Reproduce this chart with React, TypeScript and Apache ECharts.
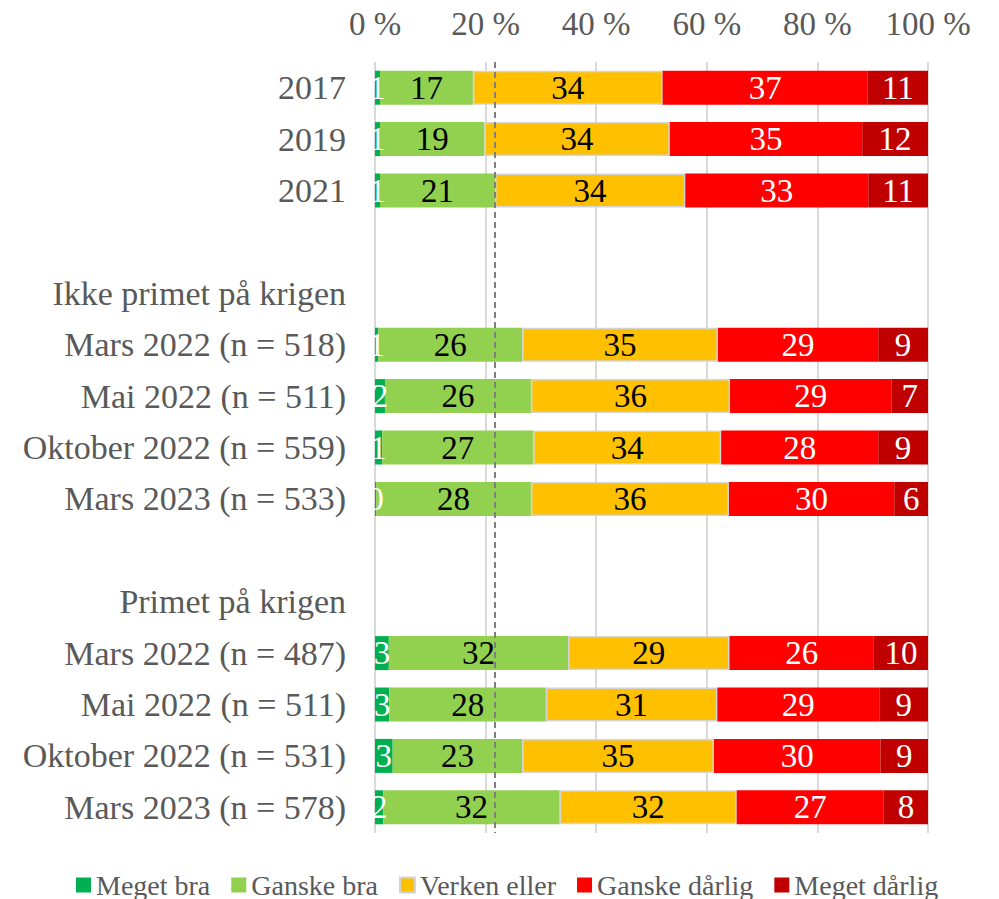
import React, { useEffect, useRef } from "react";
import * as echarts from "echarts";

const categories = [
  "2017",
  "2019",
  "2021",
  "",
  "Ikke primet på krigen",
  "Mars 2022 (n = 518)",
  "Mai 2022 (n = 511)",
  "Oktober 2022 (n = 559)",
  "Mars 2023 (n = 533)",
  " ",
  "Primet på krigen",
  "Mars 2022 (n = 487)",
  "Mai 2022 (n = 511)",
  "Oktober 2022 (n = 531)",
  "Mars 2023 (n = 578)",
];

const megetBra = [0.9, 0.9, 0.9, null, null, 0.6, 1.8, 1.3, 0.2, null, null, 2.5, 2.6, 3.2, 1.5];
const ganskeBra = [16.8, 18.9, 20.8, null, null, 26.0, 26.4, 27.3, 28.0, null, null, 32.4, 28.3, 23.4, 31.9];
const verkenEller = [34.3, 33.5, 34.4, null, null, 35.4, 36.0, 34.0, 35.8, null, null, 29.2, 31.0, 34.7, 32.0];
const ganskeDarlig = [37.1, 34.8, 33.1, null, null, 29.0, 29.2, 28.4, 29.9, null, null, 26.1, 29.3, 30.1, 26.6];
const megetDarlig = [10.9, 11.9, 10.8, null, null, 9.0, 6.6, 9.0, 6.1, null, null, 9.8, 8.8, 8.6, 8.0];

const seriesNames = ["Meget bra", "Ganske bra", "Verken eller", "Ganske dårlig", "Meget dårlig"];
const seriesColors = ["#00B050", "#92D050", "#FFC000", "#FF0000", "#C00000"];
const labelColors = ["#FFFFFF", "#000000", "#000000", "#FFFFFF", "#FFFFFF"];
const referenceLine = 21.7;

const FONT = "'Liberation Serif', serif";

export default function App() {
  const ref = useRef<HTMLDivElement>(null);
  useEffect(() => {
    if (!ref.current) return;
    const chart = echarts.init(ref.current, null, { renderer: "svg" });
    const allData = [megetBra, ganskeBra, verkenEller, ganskeDarlig, megetDarlig];
    const series: any[] = allData.map((d, i) => ({
      name: seriesNames[i],
      type: "bar",
      stack: "total",
      data: d,
      barWidth: 34,
      itemStyle: {
        color: seriesColors[i],
        borderColor: i === 2 ? "#d4d4d4" : undefined,
        borderWidth: i === 2 ? 1.5 : 0,
      },
      label: {
        show: true,
        position: "inside",
        color: labelColors[i],
        fontSize: 33,
        fontFamily: FONT,
        formatter: (p: any) => (p.value == null ? "" : String(Math.round(p.value))),
      },
      emphasis: { disabled: true },
    }));
    series[4].markLine = {
      silent: true,
      symbol: ["none", "none"],
      label: { show: false },
      lineStyle: { color: "#7f7f7f", width: 2, type: [6, 4] },
      data: [{ xAxis: referenceLine }],
    };
    chart.setOption({
      animation: false,
      backgroundColor: "#ffffff",
      grid: { left: 375, right: 71, top: 62, bottom: 66 },
      xAxis: {
        type: "value",
        position: "top",
        min: 0,
        max: 100,
        interval: 20,
        axisLine: { show: false },
        axisTick: { show: false },
        splitLine: { show: true, lineStyle: { color: "#d9d9d9", width: 2 } },
        axisLabel: {
          formatter: "{value} %",
          color: "#595959",
          fontSize: 33,
          fontFamily: FONT,
          margin: 22,
        },
      },
      yAxis: {
        type: "category",
        inverse: true,
        data: categories,
        axisLine: { show: false },
        axisTick: { show: false },
        axisLabel: {
          color: "#595959",
          fontSize: 34,
          fontFamily: FONT,
          margin: 29,
        },
      },
      legend: {
        data: seriesNames,
        top: 869,
        left: 76,
        padding: 0,
        icon: "rect",
        itemWidth: 15,
        itemHeight: 15,
        itemGap: 21,
        textStyle: { color: "#595959", fontSize: 28, fontFamily: FONT, lineHeight: 32 },
      },
      series,
    });
    return () => chart.dispose();
  }, []);
  return (
    <div
      ref={ref}
      style={{ position: "fixed", left: 0, top: 0, width: 999, height: 899, background: "#fff" }}
    />
  );
}
